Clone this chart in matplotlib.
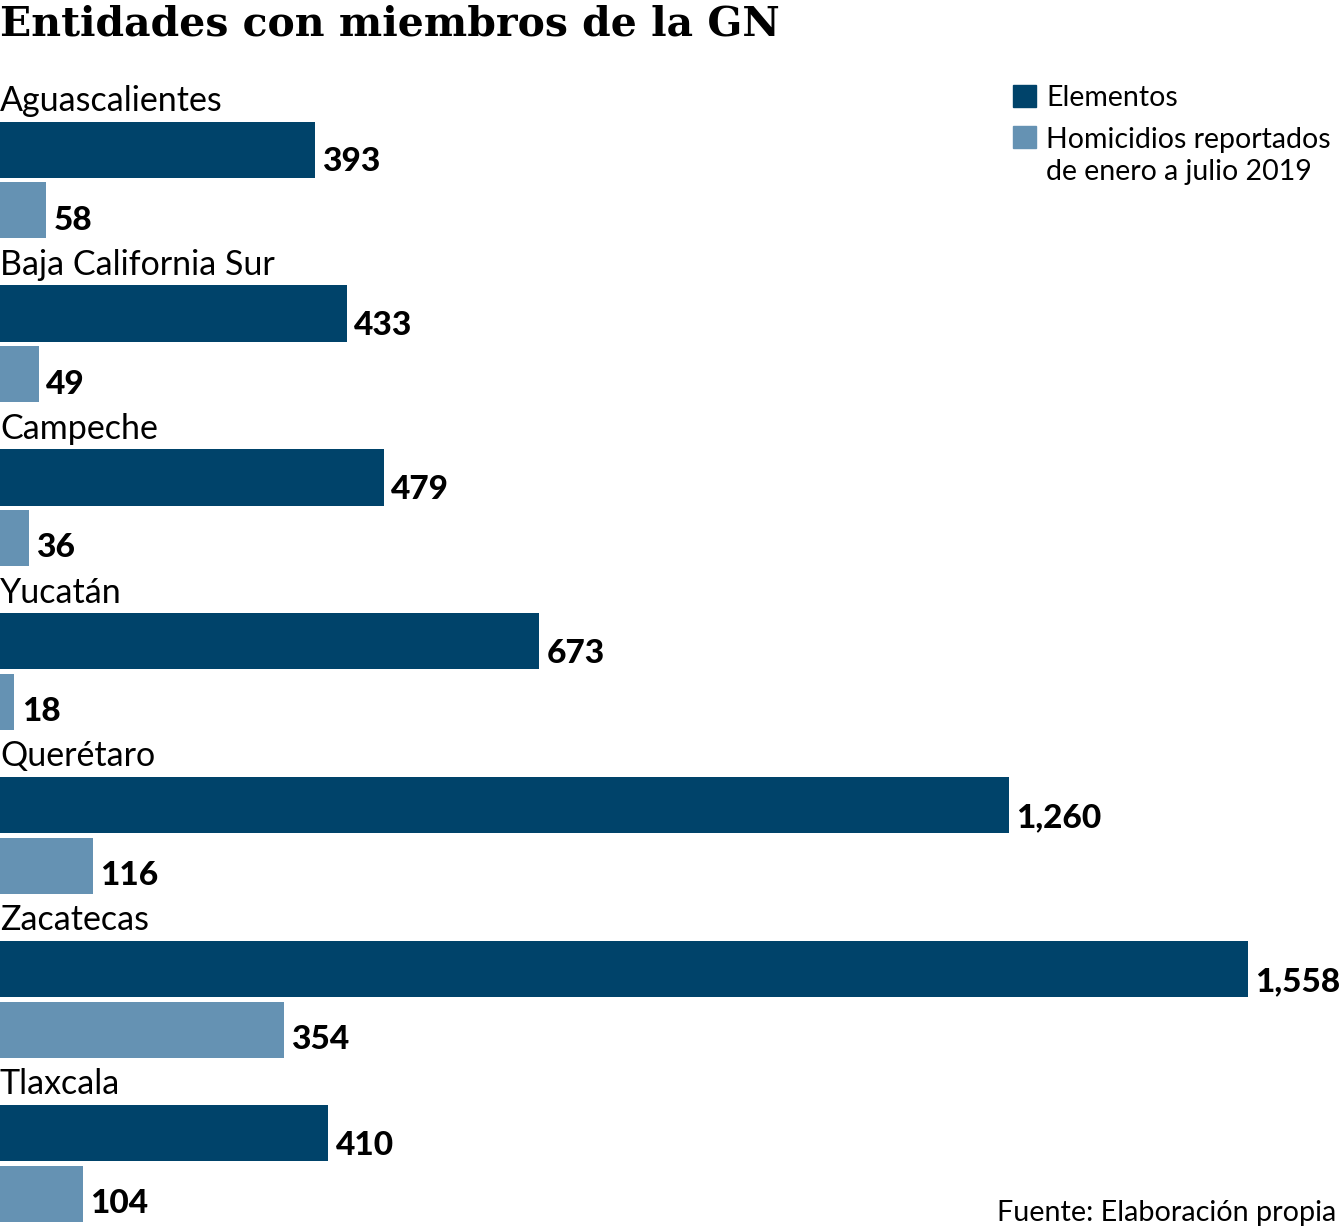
import matplotlib.pyplot as plt
from matplotlib.patches import Rectangle

# data
entidades = ['Aguascalientes', 'Baja California Sur', 'Campeche', 'Yucatán',
             'Querétaro', 'Zacatecas', 'Tlaxcala']
elementos = [393, 433, 479, 673, 1260, 1558, 410]
homicidios = [58, 49, 36, 18, 116, 354, 104]

dark = '#00436a'
light = '#6592b3'

fig = plt.figure(figsize=(13.4, 12.29), dpi=100)
ax = fig.add_axes([0, 0, 1, 1])
ax.set_xlim(0, 1340 / 0.801)
ax.set_ylim(6.40, -1.098)
ax.axis('off')

off = 0.185
h = 0.343
y = list(range(len(entidades)))
ax.barh([i - off for i in y], elementos, height=h, color=dark)
ax.barh([i + off for i in y], homicidios, height=h, color=light)

for i, name in enumerate(entidades):
    ax.text(0, i - 0.483, name, fontsize=24.5, family='Lato', va='center', ha='left')
    ax.text(elementos[i] + 9, i - off + 0.075, f'{elementos[i]:,}', fontsize=24,
            family='Lato', weight='black', va='center', ha='left')
    ax.text(homicidios[i] + 9, i + off + 0.06, f'{homicidios[i]:,}', fontsize=24,
            family='Lato', weight='black', va='center', ha='left')

fig.text(0.0, 1 - 25 / 1229, 'Entidades con miembros de la GN', fontsize=29.5,
         family='DejaVu Serif', weight='bold', va='center', ha='left')

# legend
fig.patches.append(Rectangle((1013 / 1340, 1 - 107 / 1229), 23 / 1340, 22 / 1229,
                             transform=fig.transFigure, color=dark))
fig.patches.append(Rectangle((1013 / 1340, 1 - 148 / 1229), 23 / 1340, 22 / 1229,
                             transform=fig.transFigure, color=light))
fig.text(1046 / 1340, 1 - 98 / 1229, 'Elementos', fontsize=20.5, family='Lato',
         va='center', ha='left')
fig.text(1046 / 1340, 1 - 127 / 1229, 'Homicidios reportados\nde enero a julio 2019',
         fontsize=20.5, family='Lato', va='top', ha='left', linespacing=1.3)

fig.text(1336 / 1340, 1 - 1213 / 1229, 'Fuente: Elaboración propia', fontsize=20.7,
         family='Lato', va='center', ha='right')

fig.savefig('out.png', dpi=100)
